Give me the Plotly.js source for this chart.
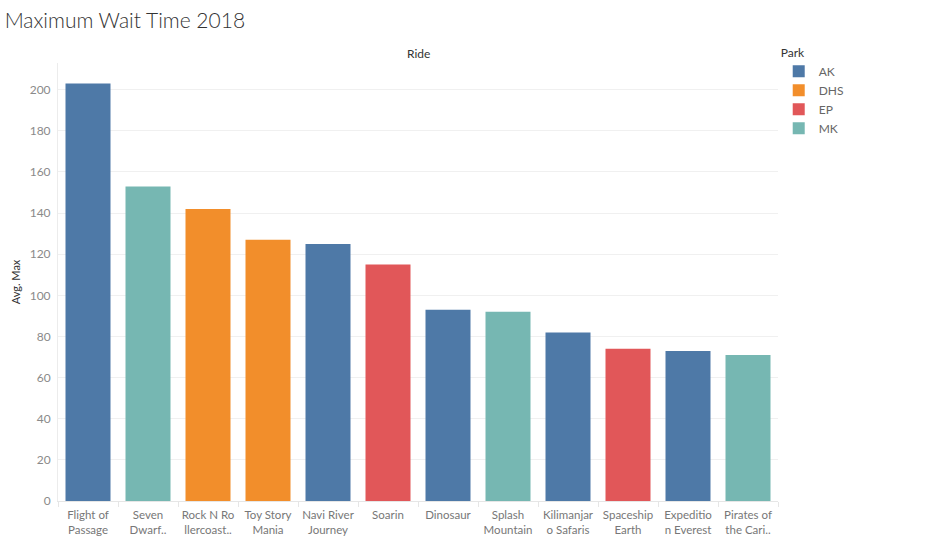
<!DOCTYPE html>
<html>
<head>
<meta charset="utf-8">
<script src="https://cdn.plot.ly/plotly-3.0.1.min.js"></script>
<style>html,body{margin:0;padding:0;background:#fff;}#chart{width:928px;height:541px;}</style>
</head>
<body>
<div id="chart"></div>
<script>
const rides = ["Flight of Passage","Seven Dwarfs Mine Train","Rock N Rollercoaster","Toy Story Mania","Navi River Journey","Soarin","Dinosaur","Splash Mountain","Kilimanjaro Safaris","Spaceship Earth","Expedition Everest","Pirates of the Caribbean"];
const tickLabels = ["Flight of<br>Passage","Seven<br>Dwarf..","Rock N Ro<br>llercoast..","Toy Story<br>Mania","Navi River<br>Journey","Soarin","Dinosaur","Splash<br>Mountain","Kilimanjar<br>o Safaris","Spaceship<br>Earth","Expeditio<br>n Everest","Pirates of<br>the Cari.."];
const parks = ["AK","MK","DHS","DHS","AK","EP","AK","MK","AK","EP","AK","MK"];
const avgMax = [203,153,142,127,125,115,93,92,82,74,73,71];
const parkOrder = ["AK","DHS","EP","MK"];
const parkColors = {AK:"#4e79a7", DHS:"#f28e2b", EP:"#e15759", MK:"#76b7b2"};

const traces = parkOrder.map(p => {
  const xs = [], ys = [];
  rides.forEach((r,i) => { if (parks[i] === p) { xs.push(r); ys.push(avgMax[i]); } });
  return {type:"bar", name:p, x:xs, y:ys, marker:{color:parkColors[p]}, hovertemplate:"%{x}<br>%{y}<extra>"+p+"</extra>"};
});

const font = "Lato, 'Open Sans', sans-serif";
const layout = {
  width:928, height:541,
  margin:{l:58, r:150, t:63, b:40},
  paper_bgcolor:"#fff", plot_bgcolor:"#fff",
  barmode:"overlay", bargap:0.25,
  font:{family:font, size:12, color:"#555"},
  title:{text:"Maximum Wait Time 2018", x:0.005, xanchor:"left", y:0.961, yanchor:"middle", font:{family:font, size:21, color:"#333", weight:300}},
  xaxis:{type:"category", categoryorder:"array", categoryarray:rides, tickvals:rides, ticktext:tickLabels, tickangle:0,
         showgrid:false, showline:true, linecolor:"#e6e6e6", ticks:"outside", tickson:"boundaries", ticklen:5, tickcolor:"#e6e6e6",
         ticklabelstandoff:3, tickfont:{size:11.5, color:"#777"}, fixedrange:true},
  yaxis:{range:[0,213], tickvals:[0,20,40,60,80,100,120,140,160,180,200], showgrid:true, gridcolor:"#f0f0f0", zeroline:false,
         showline:true, linecolor:"#ececec", ticks:"outside", ticklen:4, tickcolor:"#fff",
         tickfont:{size:12, color:"#8a8a8a"},
         title:{text:"Avg. Max", standoff:6, font:{size:11, color:"#333"}}},
  legend:{title:{text:"Park", font:{size:12, color:"#333"}}, x:1.001, xanchor:"left", y:1.05, yanchor:"top", font:{size:12, color:"#666"}, tracegroupgap:0, itemclick:false},
  annotations:[{text:"Ride", xref:"paper", yref:"paper", x:0.5, y:1, yshift:0, xanchor:"center", yanchor:"bottom", showarrow:false, font:{size:12, color:"#333"}}]
};
Plotly.newPlot("chart", traces, layout, {displayModeBar:false});
</script>
</body>
</html>
